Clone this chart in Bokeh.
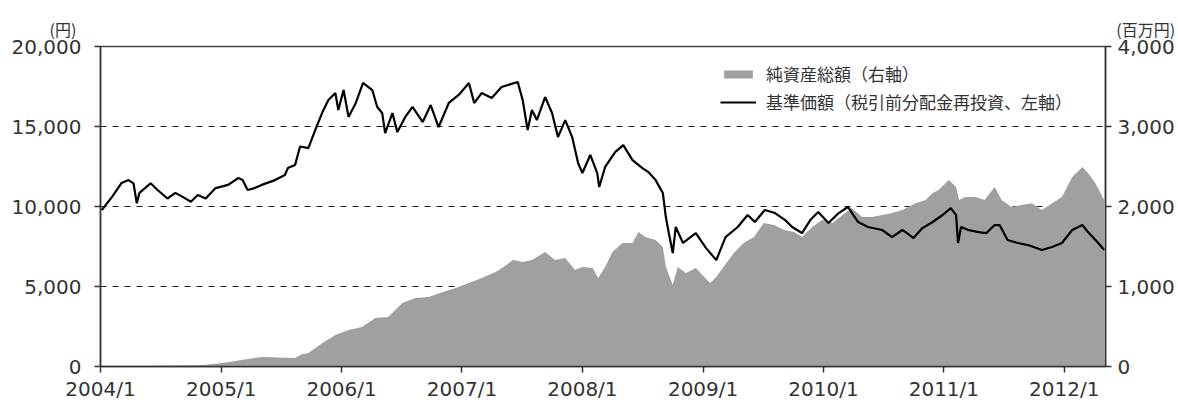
import pandas as pd
from bokeh.plotting import figure
from bokeh.models import (Range1d, LinearAxis, FixedTicker, CustomJSTickFormatter,
                          NumeralTickFormatter, Legend, LegendItem, Title, ColumnDataSource)
from bokeh.embed import file_html
from bokeh.resources import INLINE

# ---- data ----
nav_dates = ["2004-01-05","2004-02-05","2004-03-05","2004-03-26","2004-04-10","2004-04-20","2004-04-28",
    "2004-06-01","2004-06-22","2004-07-22","2004-08-15","2004-09-06","2004-10-01","2004-10-22","2004-11-15",
    "2004-12-15","2005-01-22","2005-02-22","2005-03-07","2005-03-22","2005-04-12","2005-05-04","2005-06-13",
    "2005-07-13","2005-07-22","2005-08-13","2005-08-28","2005-09-22","2005-10-13","2005-11-04","2005-11-22",
    "2005-12-13","2005-12-22","2006-01-07","2006-01-22","2006-02-13","2006-03-07","2006-04-04","2006-04-19",
    "2006-05-04","2006-05-13","2006-06-04","2006-06-19","2006-07-13","2006-08-04","2006-09-04","2006-09-28",
    "2006-10-22","2006-11-22","2006-12-22","2007-01-22","2007-02-07","2007-03-02","2007-04-01","2007-05-01",
    "2007-06-19","2007-07-04","2007-07-19","2007-08-01","2007-08-16","2007-09-10","2007-10-01","2007-10-19",
    "2007-11-10","2007-12-01","2007-12-19","2008-01-01","2008-01-25","2008-02-15","2008-02-21","2008-03-10",
    "2008-04-10","2008-05-04","2008-06-01","2008-07-01","2008-07-19","2008-08-10","2008-09-01","2008-09-10",
    "2008-09-19","2008-10-01","2008-10-10","2008-11-01","2008-12-10","2009-01-10","2009-02-10","2009-03-10",
    "2009-04-16","2009-05-16","2009-06-07","2009-07-07","2009-08-07","2009-09-07","2009-09-28","2009-10-28",
    "2009-11-22","2009-12-16","2010-01-16","2010-02-16","2010-03-16","2010-04-16","2010-05-16","2010-06-28",
    "2010-07-28","2010-08-28","2010-09-07","2010-10-01","2010-10-28","2010-11-28","2010-12-28","2011-01-22",
    "2011-02-07","2011-02-13","2011-02-22","2011-03-16","2011-04-16","2011-05-10","2011-06-04","2011-06-19",
    "2011-07-13","2011-08-13","2011-09-13","2011-10-25","2011-11-25","2011-12-25","2012-01-25","2012-02-25",
    "2012-03-13","2012-04-13","2012-05-01"]
nav_values = [9780,10600,11470,11650,11450,10200,10850,
    11450,11030,10500,10850,10600,10300,10720,10500,
    11150,11350,11780,11650,11030,11150,11350,11650,
    11970,12400,12600,13750,13650,14780,15900,16650,
    17100,16030,17280,15600,16470,17720,17280,16220,
    15840,14590,15840,14650,15600,16220,15280,16340,
    14960,16470,16970,17720,16470,17100,16780,17470,
    17780,16650,14780,16030,15400,16840,15840,14340,
    15400,14340,12720,12090,13220,12090,11220,12470,
    13410,13840,12900,12400,12150,11650,10840,9340,
    8340,7090,8720,7720,8340,7400,6650,8090,
    8720,9470,9030,9780,9590,9150,8720,8340,
    9150,9660,8970,9590,9970,9030,8720,8530,
    8090,8530,8400,8030,8650,9030,9470,9900,
    9470,7720,8720,8530,8400,8340,8840,8840,
    7910,7720,7590,7280,7470,7720,8530,8840,
    8400,7720,7280]

asset_dates = ["2004-01-05","2004-06-01","2004-11-01","2005-01-05","2005-05-04","2005-08-13","2005-09-01",
    "2005-09-22","2005-11-04","2005-12-13","2006-01-22","2006-03-04","2006-04-13","2006-05-22","2006-07-04",
    "2006-08-13","2006-09-22","2006-11-04","2006-12-13","2007-01-22","2007-03-02","2007-04-13","2007-05-07",
    "2007-06-04","2007-07-04","2007-08-01","2007-09-10","2007-10-10","2007-11-10","2007-12-10","2008-01-01",
    "2008-02-01","2008-02-18","2008-03-10","2008-04-01","2008-05-01","2008-06-01","2008-06-19","2008-07-10",
    "2008-08-10","2008-09-01","2008-09-10","2008-10-01","2008-10-16","2008-11-10","2008-12-10","2009-01-22",
    "2009-02-10","2009-03-04","2009-04-04","2009-05-04","2009-06-04","2009-07-04","2009-08-04","2009-09-04",
    "2009-10-04","2009-10-28","2009-11-28","2009-12-28","2010-01-28","2010-02-28","2010-03-28","2010-04-28",
    "2010-05-28","2010-06-28","2010-07-28","2010-08-28","2010-10-07","2010-11-07","2010-11-28","2010-12-16",
    "2011-01-16","2011-02-07","2011-02-16","2011-03-07","2011-04-07","2011-05-04","2011-06-04","2011-06-25",
    "2011-07-25","2011-08-25","2011-09-25","2011-10-25","2011-11-25","2011-12-25","2012-01-25","2012-02-25",
    "2012-03-13","2012-04-04","2012-05-01"]
asset_values = [0,5,15,45,120,105,150,
    170,295,395,455,495,605,620,795,
    855,870,930,980,1045,1105,1180,1245,
    1330,1305,1330,1430,1330,1355,1205,1245,
    1230,1105,1245,1430,1545,1545,1680,1620,
    1580,1495,1245,1020,1245,1170,1230,1045,
    1120,1245,1420,1545,1620,1795,1770,1705,
    1680,1620,1745,1830,1795,1895,1980,1870,
    1870,1895,1920,1955,2040,2080,2170,2205,
    2330,2245,2080,2120,2120,2080,2245,2080,
    1995,2020,2040,1955,2040,2120,2370,2495,
    2420,2295,2080]

year_ticks = ["2004-01-01","2005-01-01","2006-01-01","2007-01-01","2008-01-01",
              "2009-01-01","2010-01-01","2011-01-01","2012-01-01"]
left_ticks = [0, 5000, 10000, 15000, 20000]
right_ticks = [0, 1000, 2000, 3000, 4000]
label_area = "純資産総額（右軸）"
label_line = "基準価額（税引前分配金再投資、左軸）"
left_unit = "(円)"
right_unit = "(百万円)"

FONT = "Noto Sans CJK JP"
NUMFONT = "DejaVu Sans"
TXT = "#333333"

def ms(s):
    return pd.Timestamp(s).value / 1e6

nav_src = ColumnDataSource(dict(date=pd.to_datetime(nav_dates), nav=nav_values))
asset_src = ColumnDataSource(dict(date=pd.to_datetime(asset_dates), assets=asset_values))

p = figure(width=1178, height=406, x_axis_type="datetime", output_backend="svg",
           toolbar_location=None,
           x_range=Range1d(ms("2004-01-01"), ms("2012-05-05")),
           y_range=Range1d(0, 20000),
           min_border_left=100, min_border_right=73, min_border_top=46, min_border_bottom=40)
p.extra_y_ranges = {"assets": Range1d(0, 4000)}

area = p.varea(x="date", y1=0, y2="assets", source=asset_src, y_range_name="assets",
               fill_color="#a0a0a0", fill_alpha=1.0)
line = p.line(x="date", y="nav", source=nav_src, line_color="black", line_width=2.2)

# axes
p.xaxis.ticker = FixedTicker(ticks=[ms(t) for t in year_ticks])
p.xaxis.formatter = CustomJSTickFormatter(code="""
    const d = new Date(tick);
    return d.getUTCFullYear() + "/" + (d.getUTCMonth() + 1);
""")
p.yaxis.ticker = FixedTicker(ticks=left_ticks)
p.yaxis.formatter = NumeralTickFormatter(format="0,0")

right = LinearAxis(y_range_name="assets", ticker=FixedTicker(ticks=right_ticks),
                   formatter=NumeralTickFormatter(format="0,0"))
p.add_layout(right, "right")

for ax in [p.xaxis[0], p.yaxis[0], right]:
    ax.axis_line_color = "#333333"
    ax.axis_line_width = 1.5
    ax.major_tick_line_color = "#333333"
    ax.major_tick_line_width = 1.5
    ax.major_tick_in = 0
    ax.major_tick_out = 6
    ax.minor_tick_line_color = None
    ax.major_label_text_font = NUMFONT
    ax.major_label_text_font_size = "20px"
    ax.major_label_text_color = TXT
    ax.major_label_standoff = 4
p.yaxis[0].major_label_standoff = 13
right.major_label_standoff = 6

p.xgrid.grid_line_color = None
p.ygrid.grid_line_color = "#222222"
p.ygrid.grid_line_dash = "6 6"
p.ygrid.grid_line_width = 1.2

p.outline_line_color = "#444444"
p.outline_line_width = 1.5
p.outline_line_alpha = 1.0
p.background_fill_color = "white"
p.border_fill_color = "white"

# unit captions of both axes, on one line above the plot
units_text = left_unit + "\u3000" * 65 + right_unit
p.add_layout(Title(text=units_text, align="left", offset=-51, standoff=11,
                   text_font=FONT, text_font_size="16px", text_font_style="normal",
                   text_color=TXT), "above")

legend = Legend(items=[LegendItem(label=label_area, renderers=[area]),
                       LegendItem(label=label_line, renderers=[line])],
                location=(620, 252), orientation="vertical",
                glyph_width=36, glyph_height=10, label_standoff=10,
                label_text_font=FONT, label_text_font_size="17px", label_text_color=TXT,
                label_height=20, spacing=3, padding=4,
                border_line_color=None, background_fill_alpha=0.0)
p.add_layout(legend)

open("out.html", "w").write(file_html(p, INLINE))
